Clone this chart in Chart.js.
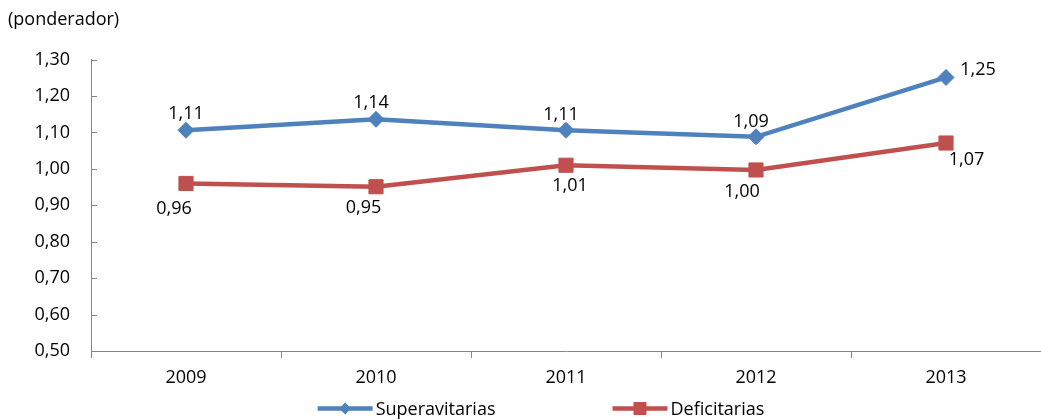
<!DOCTYPE html>
<html><head><meta charset="utf-8">
<script src="https://cdn.jsdelivr.net/npm/chart.js@4/dist/chart.umd.min.js"></script>
<style>html,body{margin:0;padding:0;background:#fff;}</style>
</head><body>
<canvas id="c" width="1041" height="419"></canvas>
<script>
// ---- data ----
const categories = ['2009', '2010', '2011', '2012', '2013'];
const superavitarias = [1.106, 1.136, 1.106, 1.088, 1.251];
const deficitarias = [0.960, 0.951, 1.010, 0.997, 1.071];
const yTickValues = [0.5, 0.6, 0.7, 0.8, 0.9, 1.0, 1.1, 1.2, 1.3];
const seriesNames = ['Superavitarias', 'Deficitarias'];
const titleText = '(ponderador)';

// ---- style ----
const FONT = '"Open Sans", "DejaVu Sans", sans-serif';
const FS = 18;
const BLUE = '#4F81BD';
const RED = '#C0504D';
const AXIS = '#868686';
const supLabelOffsets = [[0, -18], [-5, -17.5], [-5, -17], [-5, -16], [32, -9]];
const defLabelOffsets = [[-12, 24], [-12.5, 20], [4, 19], [-14, 21], [20.5, 16]];
const fmt = v => v.toFixed(2).replace('.', ',');

const yInsideTicks = {
  id: 'yInsideTicks',
  afterDraw(chart) {
    const s = chart.scales.y, ctx = chart.ctx;
    ctx.save();
    ctx.strokeStyle = AXIS; ctx.lineWidth = 1;
    yTickValues.forEach(v => {
      const y = Math.round(s.getPixelForValue(v)) + 0.5;
      ctx.beginPath(); ctx.moveTo(s.right, y); ctx.lineTo(s.right + 6, y); ctx.stroke();
    });
    ctx.restore();
  }
};

const dataLabels = {
  id: 'dataLabels',
  afterDatasetsDraw(chart) {
    const ctx = chart.ctx;
    ctx.save();
    ctx.font = FS + 'px ' + FONT;
    ctx.fillStyle = '#000';
    ctx.textAlign = 'center';
    ctx.textBaseline = 'alphabetic';
    const offs = [supLabelOffsets, defLabelOffsets];
    chart.data.datasets.forEach((ds, di) => {
      const meta = chart.getDatasetMeta(di);
      meta.data.forEach((pt, i) => {
        const o = offs[di][i];
        ctx.fillText(fmt(ds.data[i]), pt.x + o[0], pt.y + o[1] + FS * 0.357);
      });
    });
    ctx.restore();
  }
};

const customLegend = {
  id: 'customLegend',
  afterDraw(chart) {
    const ctx = chart.ctx;
    ctx.save();
    ctx.font = FS + 'px ' + FONT;
    const lineLen = 55, gap = 3, spacing = 117;
    const widths = seriesNames.map(n => ctx.measureText(n).width);
    const total = widths.reduce((a, w) => a + lineLen + gap + w, 0) + spacing * (seriesNames.length - 1);
    let x = 541 - total / 2;
    const y = 408.5;
    const cols = [BLUE, RED];
    seriesNames.forEach((n, i) => {
      ctx.strokeStyle = cols[i]; ctx.fillStyle = cols[i]; ctx.lineWidth = 4.5;
      ctx.beginPath(); ctx.moveTo(x, y); ctx.lineTo(x + lineLen, y); ctx.stroke();
      const cx = x + lineLen / 2;
      ctx.beginPath();
      if (i === 0) {
        ctx.moveTo(cx, y - 6); ctx.lineTo(cx + 6, y); ctx.lineTo(cx, y + 6); ctx.lineTo(cx - 6, y); ctx.closePath();
      } else {
        ctx.rect(cx - 6.5, y - 6.5, 13, 13);
      }
      ctx.fill();
      ctx.fillStyle = '#000';
      ctx.textBaseline = 'alphabetic';
      ctx.textAlign = 'left';
      ctx.fillText(n, x + lineLen + gap, y + FS * 0.357);
      x += lineLen + gap + widths[i] + spacing;
    });
    ctx.restore();
  }
};

new Chart(document.getElementById('c'), {
  type: 'line',
  data: {
    labels: categories,
    datasets: [
      { label: seriesNames[0], data: superavitarias, borderColor: BLUE, backgroundColor: BLUE,
        borderWidth: 4.5, pointStyle: 'rectRot', pointRadius: 8, pointBorderWidth: 1,
        pointBackgroundColor: BLUE, pointBorderColor: BLUE, tension: 0 },
      { label: seriesNames[1], data: deficitarias, borderColor: RED, backgroundColor: RED,
        borderWidth: 4.5, pointStyle: 'rect', pointRadius: 10, pointBorderWidth: 1,
        pointBackgroundColor: RED, pointBorderColor: RED, tension: 0 }
    ]
  },
  options: {
    responsive: false,
    animation: false,
    layout: { autoPadding: false, padding: { left: 8, right: 0, top: 0, bottom: 24 } },
    plugins: {
      legend: { display: false },
      tooltip: { enabled: false },
      title: { display: true, text: titleText, align: 'start', color: '#000',
        font: { family: FONT, size: FS, weight: 'normal' }, padding: { top: 9, bottom: 29 } }
    },
    scales: {
      x: {
        offset: true,
        afterFit(s) { s.height = 44; s.paddingLeft = 0; s.paddingRight = 0; },
        grid: { display: true, drawOnChartArea: false, drawTicks: true, tickLength: 7, color: AXIS, offset: true },
        border: { display: true, color: AXIS, width: 1 },
        ticks: { color: '#000', font: { family: FONT, size: FS }, padding: 9, maxRotation: 0 }
      },
      y: {
        min: 0.5, max: 1.3,
        afterFit(s) { s.width = 83; s.paddingTop = 0; s.paddingBottom = 0; },
        afterBuildTicks(s) { s.ticks = yTickValues.map(v => ({ value: v })); },
        grid: { display: true, drawOnChartArea: false, drawTicks: false, color: AXIS },
        border: { display: true, color: AXIS, width: 1 },
        ticks: { color: '#000', font: { family: FONT, size: FS }, padding: 21, callback: v => fmt(v) }
      }
    }
  },
  plugins: [yInsideTicks, dataLabels, customLegend]
});
</script>
</body></html>
